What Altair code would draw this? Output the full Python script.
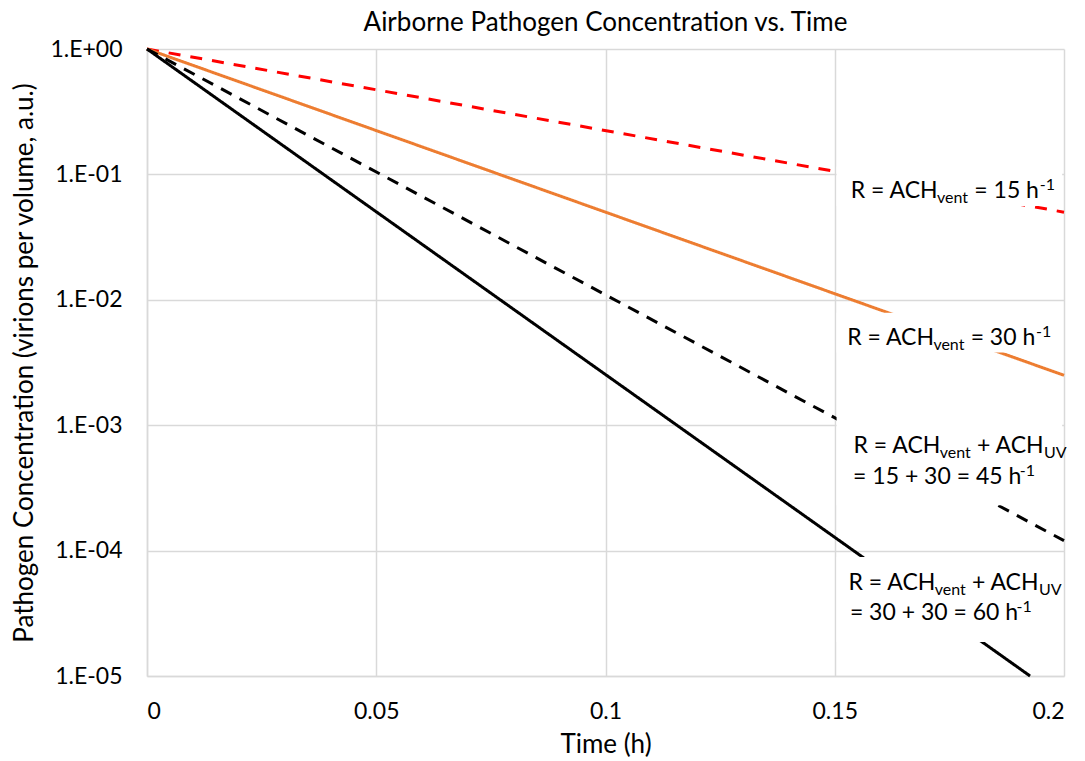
import altair as alt
import pandas as pd

# ---------------- data ----------------
series = ["R = 15", "R = 30", "R = 45", "R = 60"]
t_start = [0.0, 0.0, 0.0, 0.0]
t_end = [0.2, 0.2, 0.2, 0.1926]
c_start = [1.0, 1.0, 1.0, 1.0]
c_end = [0.05, 0.0025, 0.00012, 0.00001]
line_colors = ["#ff0000", "#ed7d31", "#000000", "#000000"]
line_dashes = [[12, 10], [1, 0], [12, 9], [1, 0]]

x_ticks = [0, 0.05, 0.1, 0.15, 0.2]
x_tick_labels = ["0", "0.05", "0.1", "0.15", "0.2"]
y_ticks = [1e-5, 1e-4, 1e-3, 1e-2, 1e-1, 1]
y_tick_labels = ["1.E-05", "1.E-04", "1.E-03", "1.E-02", "1.E-01", "1.E+00"]

# white label boxes (time from/to, concentration top/bottom)
box_t0 = [0.1504, 0.1504, 0.1504, 0.1504]
box_t1 = [0.1996, 0.1996, 0.1996, 0.1996]
box_c_top = [0.115, 0.0079, 0.0012, 0.000089]
box_c_bot = [0.056, 0.0038, 0.00023, 0.0000187]

# label anchors (time, concentration of the text baseline)
label_t = [[0.1535], [0.1527], [0.1541, 0.1540], [0.1530, 0.1533]]
label_c = [[0.0648], [0.00436], [0.00060, 0.00034], [0.0000485, 0.000028]]
label_lines = [
    [[("R = ACH", "n"), ("vent", "sub"), (" = 15 h", "n"), ("-1", "sup")]],
    [[("R = ACH", "n"), ("vent", "sub"), (" = 30 h", "n"), ("-1", "sup")]],
    [[("R = ACH", "n"), ("vent", "sub"), (" + ACH", "n"), ("UV", "sub")],
     [("= 15 + 30 = 45 h", "n"), ("-1", "sup")]],
    [[("R = ACH", "n"), ("vent", "sub"), (" + ACH", "n"), ("UV", "sub")],
     [("= 30 + 30 = 60 h", "n"), ("-1", "sup")]],
]

# ---------------- styling ----------------
FONT = "Lato"
FS = 23
FS_TITLE = 26
FS_SMALL = 16
W = {' ': 0.22, 'R': 0.62, '=': 0.58, 'A': 0.68, 'C': 0.67, 'H': 0.76,
     'v': 0.50, 'e': 0.52, 'n': 0.56, 't': 0.37, '+': 0.58, 'U': 0.73,
     'V': 0.68, 'h': 0.56, '-': 0.35}
for d in "0123456789":
    W[d] = 0.59


def text_width(s, size):
    return sum(W.get(ch, 0.55) for ch in s) * size


rows = []
for s, t0, t1, c0, c1 in zip(series, t_start, t_end, c_start, c_end):
    rows.append({"series": s, "t": t0, "c": c0})
    rows.append({"series": s, "t": t1, "c": c1})
df = pd.DataFrame(rows)


def chain_expr(ticks, labels):
    parts = []
    for i in range(len(ticks) - 1):
        if ticks[0] > 0:
            mid = (ticks[i] * ticks[i + 1]) ** 0.5
        else:
            mid = (ticks[i] + ticks[i + 1]) / 2
        parts.append(f"datum.value < {mid} ? '{labels[i]}' : ")
    return "".join(parts) + f"'{labels[-1]}'"


x_scale = alt.Scale(domain=[0, 0.2], nice=False, zero=False)
y_scale = alt.Scale(type="log", domain=[1e-5, 1], nice=False)

x_axis = alt.Axis(values=x_ticks, labelExpr=chain_expr(x_ticks, x_tick_labels),
                  title="Time (h)", ticks=False, tickSize=0, labelPadding=24,
                  titlePadding=8, grid=True)
y_axis = alt.Axis(values=y_ticks, labelExpr=chain_expr(y_ticks, y_tick_labels),
                  title="Pathogen Concentration (virions per volume, a.u.)",
                  ticks=False, tickSize=0, labelPadding=25, titlePadding=12,
                  grid=True)


def X(field):
    return alt.X(field, scale=x_scale, axis=x_axis)


def Y(field):
    return alt.Y(field, scale=y_scale, axis=y_axis)


lines = alt.Chart(df).mark_line(strokeWidth=3).encode(
    x=X("t:Q"),
    y=Y("c:Q"),
    color=alt.Color("series:N", scale=alt.Scale(domain=series, range=line_colors), legend=None),
    strokeDash=alt.StrokeDash("series:N", scale=alt.Scale(domain=series, range=line_dashes), legend=None),
)

box_df = pd.DataFrame({"t": box_t0, "t_end": box_t1, "c": box_c_top, "c_end": box_c_bot})
boxes = alt.Chart(box_df).mark_rect(fill="white", strokeWidth=0).encode(
    x=X("t:Q"), x2="t_end:Q",
    y=Y("c:Q"), y2="c_end:Q",
)

layers = [lines, boxes]
for lab_ts, lab_cs, lab_lines in zip(label_t, label_c, label_lines):
    for t, c, segs in zip(lab_ts, lab_cs, lab_lines):
        dx = 0.0
        for text, kind in segs:
            size = FS if kind == "n" else FS_SMALL
            lead = len(text) - len(text.lstrip(" "))
            dx += text_width(" " * lead, size)
            if kind == "sup":
                dx += 2
            body = text.strip(" ")
            dy = 0 if kind == "n" else (5 if kind == "sub" else -8)
            seg = alt.Chart(pd.DataFrame({"t": [t], "c": [c], "label": [body]})).mark_text(
                align="left", baseline="alphabetic", dx=dx, dy=dy,
                font=FONT, fontSize=size, color="black",
            ).encode(
                x=X("t:Q"),
                y=Y("c:Q"),
                text="label:N",
            )
            layers.append(seg)
            dx += text_width(body, size) + (1 if kind != "n" else 0)

chart = alt.layer(*layers).properties(
    width=917,
    height=627,
    title=alt.TitleParams("Airborne Pathogen Concentration vs. Time", font=FONT,
                          fontSize=FS_TITLE, fontWeight="normal", color="black",
                          anchor="middle", frame="group", offset=2),
    autosize=alt.AutoSizeParams(type="none"),
    padding={"left": 139, "top": 41, "right": 10, "bottom": 90},
).configure_view(stroke=None).configure_axis(
    labelFont=FONT, labelFontSize=FS, labelColor="black",
    titleFont=FONT, titleFontSize=FS_TITLE, titleFontWeight="normal", titleColor="black",
    gridColor="#d9d9d9", gridWidth=1.5, domainColor="#d9d9d9", domainWidth=1.5,
)

chart.save("out.html", embed_options={"renderer": "svg", "actions": False})
